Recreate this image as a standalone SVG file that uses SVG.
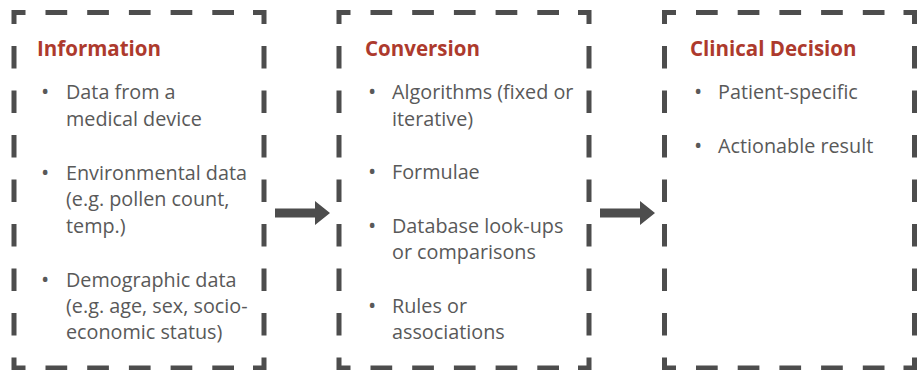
<svg xmlns="http://www.w3.org/2000/svg" width="924" height="370" viewBox="0 0 924 370">
<style>
.edge{fill:none;stroke:#4d4d4d;stroke-width:5;stroke-linecap:butt;stroke-linejoin:miter}
.title{font-family:"Open Sans","Noto Sans",sans-serif;font-weight:bold;font-size:20.5px;fill:#ad3a2d}
.body{font-family:"Open Sans","Noto Sans",sans-serif;font-size:19.8px;fill:#595959}
.dot{font-size:22px}
.arrow{fill:#4d4d4d}
</style>
<defs>
<path id="frame" class="edge" d="M0,11.5 V0 H11.5 M31.5,0 H53.2 M73.2,0 H94.9 M114.9,0 H136.6 M156.6,0 H178.3 M198.3,0 H220 M239,0 H250 V11.5 M250,33.5 V56 M250,78 V100.5 M250,122.5 V145 M250,167 V189.5 M250,211.5 V234 M250,256 V278.5 M250,300.5 V323 M250,345 V355.5 H239 M220,355.5 H198.3 M178.3,355.5 H156.6 M136.6,355.5 H114.9 M94.9,355.5 H73.2 M53.2,355.5 H31.5 M11.5,355.5 H0 V345 M0,323 V300.5 M0,278.5 V256 M0,234 V211.5 M0,189.5 V167 M0,145 V122.5 M0,100.5 V78 M0,56 V33.5"/>
</defs>
<g id="information">
<use href="#frame" x="14" y="12.5"/>
<text class="title" x="37" y="56">Information</text>
<text class="body"><tspan class="dot" x="41" y="99">•</tspan><tspan x="66" y="99">Data from a</tspan><tspan x="66" y="126">medical device</tspan>
<tspan class="dot" x="41" y="180">•</tspan><tspan x="66" y="180">Environmental data</tspan><tspan x="66" y="206">(e.g. pollen count,</tspan><tspan x="66" y="233">temp.)</tspan>
<tspan class="dot" x="41" y="287">•</tspan><tspan x="66" y="287">Demographic data</tspan><tspan x="66" y="313">(e.g. age, sex, socio-</tspan><tspan x="66" y="339">economic status)</tspan></text>
</g>
<g id="conversion">
<use href="#frame" x="339" y="12.5"/>
<text class="title" x="365" y="56">Conversion</text>
<text class="body"><tspan class="dot" x="368" y="99">•</tspan><tspan x="392" y="99">Algorithms (fixed or</tspan><tspan x="392" y="126">iterative)</tspan>
<tspan class="dot" x="368" y="179">•</tspan><tspan x="392" y="179">Formulae</tspan>
<tspan class="dot" x="368" y="233">•</tspan><tspan x="392" y="233">Database look-ups</tspan><tspan x="392" y="259">or comparisons</tspan>
<tspan class="dot" x="368" y="313">•</tspan><tspan x="392" y="313">Rules or</tspan><tspan x="392" y="339">associations</tspan></text>
</g>
<g id="clinical-decision">
<use href="#frame" x="664.5" y="12.5"/>
<text class="title" x="690" y="56">Clinical Decision</text>
<text class="body"><tspan class="dot" x="694" y="99">•</tspan><tspan x="718" y="99">Patient-specific</tspan>
<tspan class="dot" x="694" y="153">•</tspan><tspan x="718" y="153">Actionable result</tspan></text>
</g>
<g id="connectors">
<polygon class="arrow" points="275,208.5 315,208.5 315,201 330,213 315,225 315,217.5 275,217.5"/>
<polygon class="arrow" points="600,208.5 640,208.5 640,201 655,213 640,225 640,217.5 600,217.5"/>
</g>
</svg>
